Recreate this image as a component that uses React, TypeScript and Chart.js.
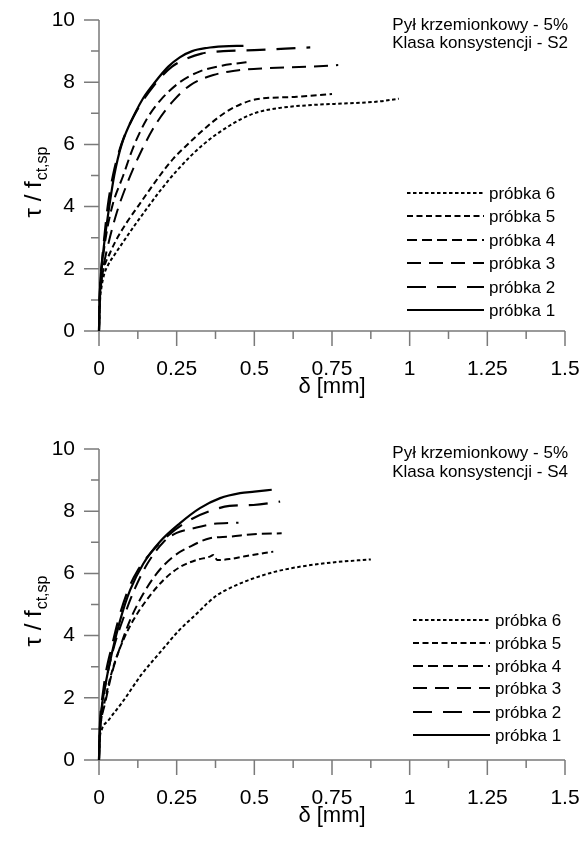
import React, { useEffect, useRef } from "react";
import { Chart, registerables } from "chart.js";

Chart.register(...registerables);

// ---------- data ----------
const SERIES_LABELS = ["próbka 1", "próbka 2", "próbka 3", "próbka 4", "próbka 5", "próbka 6"];
const X_TICKS = [0, 0.25, 0.5, 0.75, 1, 1.25, 1.5];
const X_MINOR = [0.125, 0.375, 0.625, 0.875, 1.125, 1.375];
const Y_TICKS = [0, 2, 4, 6, 8, 10];
const Y_MINOR = [1, 3, 5, 7, 9];

const NOTE_S2 = ["Pył krzemionkowy - 5%", "Klasa konsystencji - S2"];
const NOTE_S4 = ["Pył krzemionkowy - 5%", "Klasa konsystencji - S4"];

// S2 chart
const S2_P1_DELTA = [0, 0.002, 0.006, 0.012, 0.019, 0.033, 0.049, 0.073, 0.116, 0.143, 0.18, 0.223, 0.26, 0.3, 0.347, 0.4, 0.465];
const S2_P1_TAU = [0, 1.0, 1.8, 2.4, 3.0, 4.0, 5.0, 6.0, 7.0, 7.5, 8.0, 8.5, 8.8, 9.0, 9.1, 9.15, 9.17];
const S2_P2_DELTA = [0, 0.002, 0.006, 0.012, 0.018, 0.028, 0.045, 0.072, 0.117, 0.185, 0.235, 0.28, 0.33, 0.4, 0.5, 0.6, 0.68];
const S2_P2_TAU = [0, 1.0, 1.8, 2.5, 3.1, 4.0, 5.0, 6.0, 7.0, 8.0, 8.5, 8.75, 8.92, 9.0, 9.03, 9.08, 9.12];
const S2_P3_DELTA = [0, 0.003, 0.008, 0.015, 0.03, 0.057, 0.089, 0.132, 0.186, 0.239, 0.293, 0.368, 0.454, 0.54, 0.68, 0.77];
const S2_P3_TAU = [0, 1.0, 1.6, 2.1, 2.8, 3.8, 4.7, 5.7, 6.7, 7.4, 7.9, 8.23, 8.39, 8.45, 8.5, 8.55];
const S2_P4_DELTA = [0, 0.002, 0.006, 0.012, 0.025, 0.045, 0.078, 0.11, 0.153, 0.196, 0.26, 0.325, 0.39, 0.44, 0.49];
const S2_P4_TAU = [0, 1.0, 1.7, 2.3, 3.2, 4.1, 5.0, 5.9, 6.8, 7.4, 8.0, 8.35, 8.52, 8.6, 8.66];
const S2_P5_DELTA = [0, 0.002, 0.006, 0.015, 0.035, 0.054, 0.09, 0.125, 0.16, 0.196, 0.24, 0.28, 0.363, 0.41, 0.458, 0.506, 0.637, 0.75];
const S2_P5_TAU = [0, 0.9, 1.5, 2.0, 2.5, 2.9, 3.5, 4.0, 4.5, 5.0, 5.55, 5.95, 6.7, 7.05, 7.3, 7.45, 7.53, 7.62];
const S2_P6_DELTA = [0, 0.003, 0.008, 0.016, 0.028, 0.05, 0.077, 0.115, 0.155, 0.2, 0.25, 0.33, 0.42, 0.5, 0.58, 0.69, 0.8, 0.9, 0.965];
const S2_P6_TAU = [0, 0.9, 1.4, 1.8, 2.1, 2.45, 2.85, 3.4, 3.95, 4.55, 5.15, 5.95, 6.6, 7.0, 7.17, 7.27, 7.32, 7.38, 7.47];

// S4 chart
const S4_P1_DELTA = [0, 0.002, 0.005, 0.01, 0.019, 0.041, 0.068, 0.1, 0.143, 0.196, 0.26, 0.325, 0.39, 0.454, 0.5, 0.556];
const S4_P1_TAU = [0, 0.8, 1.3, 1.8, 2.34, 3.42, 4.49, 5.46, 6.32, 7.02, 7.61, 8.1, 8.42, 8.58, 8.63, 8.69];
const S4_P2_DELTA = [0, 0.002, 0.005, 0.012, 0.022, 0.04, 0.065, 0.095, 0.125, 0.17, 0.22, 0.293, 0.368, 0.42, 0.497, 0.583];
const S4_P2_TAU = [0, 0.9, 1.5, 2.1, 2.8, 3.6, 4.6, 5.5, 6.1, 6.7, 7.2, 7.72, 8.04, 8.17, 8.2, 8.31];
const S4_P3_DELTA = [0, 0.002, 0.006, 0.014, 0.028, 0.05, 0.08, 0.115, 0.155, 0.207, 0.25, 0.304, 0.368, 0.449];
const S4_P3_TAU = [0, 0.8, 1.4, 2.0, 2.8, 3.7, 4.6, 5.5, 6.3, 7.0, 7.3, 7.45, 7.59, 7.63];
const S4_P4_DELTA = [0, 0.002, 0.006, 0.019, 0.041, 0.068, 0.1, 0.143, 0.186, 0.239, 0.293, 0.357, 0.42, 0.497, 0.588];
const S4_P4_TAU = [0, 0.7, 1.2, 1.8, 2.77, 3.63, 4.5, 5.35, 6.0, 6.54, 6.86, 7.13, 7.18, 7.26, 7.29];
const S4_P5_DELTA = [0, 0.002, 0.006, 0.019, 0.046, 0.078, 0.11, 0.153, 0.207, 0.26, 0.314, 0.357, 0.368, 0.381, 0.42, 0.475, 0.561];
const S4_P5_TAU = [0, 0.7, 1.2, 1.91, 2.99, 3.85, 4.49, 5.14, 5.78, 6.2, 6.43, 6.54, 6.59, 6.43, 6.46, 6.56, 6.7];
const S4_P6_DELTA = [0, 0.002, 0.008, 0.03, 0.078, 0.137, 0.2, 0.256, 0.314, 0.35, 0.38, 0.42, 0.47, 0.5, 0.565, 0.65, 0.75, 0.875];
const S4_P6_TAU = [0, 0.6, 0.95, 1.27, 1.9, 2.75, 3.5, 4.15, 4.7, 5.05, 5.3, 5.52, 5.74, 5.85, 6.05, 6.22, 6.35, 6.45];

const S2_DELTAS = [S2_P1_DELTA, S2_P2_DELTA, S2_P3_DELTA, S2_P4_DELTA, S2_P5_DELTA, S2_P6_DELTA];
const S2_TAUS = [S2_P1_TAU, S2_P2_TAU, S2_P3_TAU, S2_P4_TAU, S2_P5_TAU, S2_P6_TAU];
const S4_DELTAS = [S4_P1_DELTA, S4_P2_DELTA, S4_P3_DELTA, S4_P4_DELTA, S4_P5_DELTA, S4_P6_DELTA];
const S4_TAUS = [S4_P1_TAU, S4_P2_TAU, S4_P3_TAU, S4_P4_TAU, S4_P5_TAU, S4_P6_TAU];

// ---------- styles ----------
const DASHES: number[][] = [[], [19, 11], [14, 8], [10, 5], [6, 3.5], [3.5, 2.5]];
const LINE_W = [2.2, 2.2, 2, 2, 2, 2];
const AXIS_COLOR = "#7a7a7a";
const TICK_FAMILY = "'Liberation Sans Narrow', 'Liberation Sans', Arial, sans-serif";
const TEXT_FAMILY = "'Liberation Sans', Arial, sans-serif";

type PanelProps = {
  deltas: number[][];
  taus: number[][];
  note: string[];
  height: number;
  plotTop: number;
  plotBottom: number;
  legendRows: number[];
  legendX: [number, number, number];
  noteY: [number, number];
};

function makeDecor(p: PanelProps) {
  return {
    id: "decor",
    beforeDatasetsDraw(chart: any) {
      const { ctx, scales } = chart;
      const xs = scales.x;
      const ys = scales.y;
      const x0 = xs.getPixelForValue(0);
      const y0 = ys.getPixelForValue(0);
      ctx.save();
      ctx.strokeStyle = AXIS_COLOR;
      ctx.lineWidth = 1.5;
      ctx.beginPath();
      ctx.moveTo(x0, ys.getPixelForValue(10));
      ctx.lineTo(x0, y0);
      ctx.moveTo(x0, y0);
      ctx.lineTo(xs.getPixelForValue(1.5), y0);
      X_TICKS.forEach((v) => {
        const px = xs.getPixelForValue(v);
        ctx.moveTo(px, y0);
        ctx.lineTo(px, y0 + 15);
      });
      X_MINOR.forEach((v) => {
        const px = xs.getPixelForValue(v);
        ctx.moveTo(px, y0);
        ctx.lineTo(px, y0 + 8);
      });
      Y_TICKS.forEach((v) => {
        const py = ys.getPixelForValue(v);
        ctx.moveTo(x0, py);
        ctx.lineTo(x0 - 15, py);
      });
      Y_MINOR.forEach((v) => {
        const py = ys.getPixelForValue(v);
        ctx.moveTo(x0, py);
        ctx.lineTo(x0 - 8, py);
      });
      ctx.stroke();
      ctx.restore();
    },
    afterDraw(chart: any) {
      const { ctx, chartArea } = chart;
      ctx.save();
      ctx.fillStyle = "#000";
      // notes
      ctx.font = `17px ${TEXT_FAMILY}`;
      ctx.textAlign = "right";
      ctx.textBaseline = "middle";
      ctx.fillText(p.note[0], 568, p.noteY[0]);
      ctx.fillText(p.note[1], 568, p.noteY[1]);
      // legend (reverse order: próbka 6 on top)
      ctx.textAlign = "left";
      const ds = chart.data.datasets;
      for (let k = 0; k < 6; k++) {
        const i = 5 - k;
        const y = p.legendRows[k];
        ctx.strokeStyle = "#000";
        ctx.lineWidth = LINE_W[i];
        ctx.setLineDash(DASHES[i]);
        ctx.beginPath();
        ctx.moveTo(p.legendX[0], y);
        ctx.lineTo(p.legendX[1], y);
        ctx.stroke();
        ctx.setLineDash([]);
        ctx.fillText(ds[i].label, p.legendX[2], y + 1);
      }
      // x title
      ctx.textAlign = "center";
      ctx.font = `22px ${TEXT_FAMILY}`;
      ctx.fillText("δ [mm]", (chartArea.left + chartArea.right) / 2, chartArea.bottom + 56);
      // y title, rotated
      ctx.translate(33, (chartArea.top + chartArea.bottom) / 2 + 42);
      ctx.rotate(-Math.PI / 2);
      ctx.textAlign = "left";
      ctx.textBaseline = "alphabetic";
      ctx.font = `24px ${TEXT_FAMILY}`;
      const main = "τ / f";
      ctx.fillText(main, 0, 8);
      const w = ctx.measureText(main).width;
      ctx.font = `16px ${TEXT_FAMILY}`;
      ctx.fillText("ct,sp", w + 1, 14);
      ctx.restore();
    },
  };
}

function Panel(p: PanelProps) {
  const ref = useRef<HTMLCanvasElement>(null);
  useEffect(() => {
    if (!ref.current) return;
    const datasets = p.deltas.map((dArr, i) => ({
      label: SERIES_LABELS[i],
      data: dArr.map((d, j) => ({ x: d, y: p.taus[i][j] })),
      borderColor: "#000",
      backgroundColor: "#000",
      borderWidth: LINE_W[i],
      borderDash: DASHES[i],
      pointRadius: 0,
      cubicInterpolationMode: "monotone" as const,
      fill: false,
      clip: false as any,
    }));
    const chart = new Chart(ref.current, {
      type: "line",
      data: { datasets },
      options: {
        animation: false,
        responsive: false,
        layout: { padding: { top: p.plotTop, right: 17, left: 0, bottom: 0 } },
        plugins: { legend: { display: false }, tooltip: { enabled: false } },
        scales: {
          x: {
            type: "linear",
            min: 0,
            max: 1.5,
            grid: { display: false, drawTicks: false },
            border: { display: false },
            ticks: {
              padding: 26,
              color: "#000",
              font: { family: TICK_FAMILY, size: 21 },
              maxRotation: 0,
              autoSkip: false,
              callback: (v: any) => String(v),
            },
            afterBuildTicks: (s: any) => {
              s.ticks = X_TICKS.map((v) => ({ value: v }));
            },
            afterFit: (s: any) => {
              s.height = p.height - p.plotBottom;
              s.paddingLeft = 0;
              s.paddingRight = 0;
              s.paddingTop = 0;
              s.paddingBottom = 0;
            },
          },
          y: {
            type: "linear",
            min: 0,
            max: 10,
            grid: { display: false, drawTicks: false },
            border: { display: false },
            ticks: {
              padding: 24,
              color: "#000",
              font: { family: TICK_FAMILY, size: 21 },
              autoSkip: false,
              callback: (v: any) => String(v),
            },
            afterBuildTicks: (s: any) => {
              s.ticks = Y_TICKS.map((v) => ({ value: v }));
            },
            afterFit: (s: any) => {
              s.width = 99;
              s.paddingLeft = 0;
              s.paddingRight = 0;
              s.paddingTop = 0;
              s.paddingBottom = 0;
            },
          },
        },
      },
      plugins: [makeDecor(p) as any],
    });
    return () => chart.destroy();
  }, []);
  return (
    <div style={{ position: "relative", width: 582, height: p.height }}>
      <canvas ref={ref} width={582} height={p.height} style={{ display: "block", width: 582, height: p.height }} />
    </div>
  );
}

export default function App() {
  return (
    <div style={{ position: "absolute", top: 0, left: 0, width: 582, height: 847, background: "#fff", overflow: "hidden" }}>
      <Panel
        deltas={S2_DELTAS}
        taus={S2_TAUS}
        note={NOTE_S2}
        height={430}
        plotTop={20}
        plotBottom={331}
        legendRows={[193, 216, 240, 263, 287, 310]}
        legendX={[407, 484, 489]}
        noteY={[25, 43]}
      />
      <Panel
        deltas={S4_DELTAS}
        taus={S4_TAUS}
        note={NOTE_S4}
        height={417}
        plotTop={19}
        plotBottom={330}
        legendRows={[190, 213, 236, 258, 282, 305]}
        legendX={[413, 490, 495]}
        noteY={[23, 42]}
      />
    </div>
  );
}
